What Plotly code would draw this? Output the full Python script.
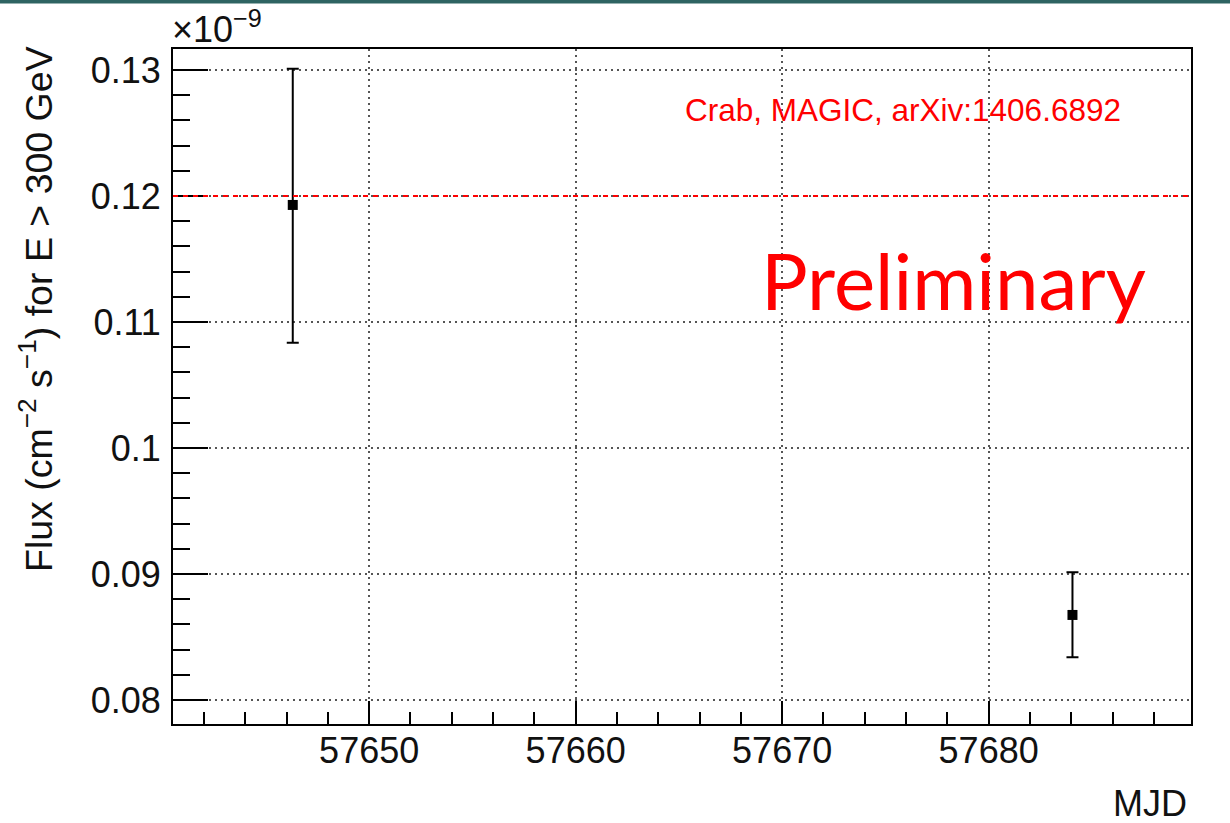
import plotly.graph_objects as go

# ---- data (flux in units of 1e-9 cm^-2 s^-1) ----
mjd = [57646.3, 57684.06]
flux = [0.11929, 0.08675]
err_up = [0.01081, 0.00339]
err_down = [0.01093, 0.00336]
crab_flux = 0.12
crab_label = "Crab, MAGIC, arXiv:1406.6892"

x_tickvals = [57650, 57660, 57670, 57680]
x_ticktext = ["57650", "57660", "57670", "57680"]
y_tickvals = [0.08, 0.09, 0.10, 0.11, 0.12, 0.13]
y_ticktext = ["0.08", "0.09", "0.1", "0.11", "0.12", "0.13"]

x_range = [57640.5, 57689.8]
y_range = [0.078095, 0.131667]

# ---- layout geometry (pixels) ----
W, H = 1230, 823
L, R, T, B = 173, 1191, 49, 724


def px_x(px):
    return (px - L) / (R - L)


def px_y(py):
    return (B - py) / (B - T)


FONT = "Liberation Sans, Arial, Helvetica, sans-serif"

fig = go.Figure()

fig.add_trace(go.Scatter(
    x=mjd, y=flux, mode="markers",
    marker=dict(symbol="square", size=10, color="black"),
    error_y=dict(type="data", symmetric=False, array=err_up, arrayminus=err_down,
                 color="black", thickness=2, width=6),
    showlegend=False, hoverinfo="x+y",
))

# Crab reference line
fig.add_shape(type="line", xref="paper", yref="y", x0=0, x1=1, y0=crab_flux, y1=crab_flux,
              line=dict(color="red", width=2, dash="5px,5px"), layer="above")

# teal slide border at the top
fig.add_shape(type="rect", xref="paper", yref="paper",
              x0=px_x(-5), x1=px_x(W + 5), y0=px_y(3.5), y1=px_y(-5),
              line=dict(width=0), fillcolor="#2e6462", layer="above")

axis_common = dict(
    showline=True, linecolor="black", linewidth=2, mirror=True,
    ticks="inside", tickcolor="black", tickwidth=2,
    showgrid=True, gridcolor="#555555", gridwidth=1.5, griddash="1.5px,4.5px",
    zeroline=False,
    tickfont=dict(family=FONT, size=36, color="#111111"),
)

fig.update_xaxes(
    **axis_common,
    range=x_range, tickmode="array", tickvals=x_tickvals, ticktext=x_ticktext,
    ticklen=23,
    minor=dict(dtick=2, tick0=57640, ticks="inside", ticklen=12, tickcolor="black",
               tickwidth=2, showgrid=False),
    ticklabelstandoff=-6,
)
fig.update_yaxes(
    **axis_common,
    range=y_range, tickmode="array", tickvals=y_tickvals, ticktext=y_ticktext,
    ticklen=35,
    minor=dict(dtick=0.002, tick0=0.08, ticks="inside", ticklen=17, tickcolor="black",
               tickwidth=2, showgrid=False),
    ticklabelstandoff=3,
)

annotations = [
    dict(text="×10<sup>−9</sup>", x=px_x(170), y=px_y(52), xanchor="left", yanchor="bottom",
         font=dict(family=FONT, size=36, color="#111111")),
    dict(text=crab_label, x=px_x(903), y=px_y(110), xanchor="center", yanchor="middle",
         font=dict(family=FONT, size=31.5, color="red")),
    dict(text="Preliminary", x=px_x(953), y=px_y(280), xanchor="center", yanchor="middle",
         font=dict(family="Lato, sans-serif", size=78, color="red")),
    dict(text="MJD", x=px_x(1189), y=px_y(803), xanchor="right", yanchor="middle",
         font=dict(family=FONT, size=36, color="#111111")),
    dict(text="Flux (cm<sup>−2</sup> s<sup>−1</sup>) for E > 300 GeV", x=px_x(36), y=px_y(44),
         xanchor="center", yanchor="top", textangle=-90,
         font=dict(family=FONT, size=37.5, color="#111111")),
]
for a in annotations:
    a.update(xref="paper", yref="paper", showarrow=False)

fig.update_layout(
    width=W, height=H,
    margin=dict(l=L, r=W - R, t=T, b=H - B),
    paper_bgcolor="white", plot_bgcolor="white",
    annotations=annotations,
    showlegend=False,
)

fig.write_html("out.html")
